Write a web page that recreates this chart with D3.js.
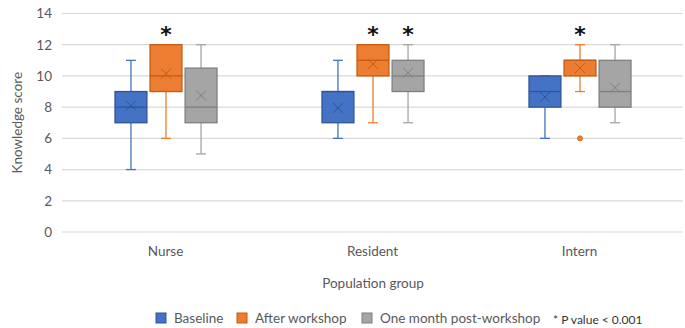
<!DOCTYPE html>
<html>
<head>
<meta charset="utf-8">
<script src="https://cdn.jsdelivr.net/npm/d3@7"></script>
<style>
  html, body { margin: 0; padding: 0; background: #fff; }
  svg { display: block; font-family: Lato, "Open Sans", sans-serif; }
</style>
</head>
<body>
<svg id="chart" width="685" height="328"></svg>
<script>
// Population groups and score series
const groups = ["Nurse", "Resident", "Intern"];
const series = ["Baseline", "After workshop", "One month post-workshop"];
const yTicks = [0, 2, 4, 6, 8, 10, 12, 14];

// Five-number summaries per series, in group order
const mins    = [[4, 6, 6], [6, 7, 9], [5, 7, 7]];
const q1s     = [[7, 7, 8], [9, 10, 10], [7, 9, 8]];
const medians = [[8, 9, 9], [10, 11, 11], [8, 10, 9]];
const q3s     = [[9, 9, 10], [12, 12, 11], [10.5, 11, 11]];
const maxs    = [[11, 11, 10], [12, 12, 12], [12, 12, 12]];
const means   = [[8.1, 7.95, 8.65], [10.15, 10.75, 10.5], [8.75, 10.2, 9.25]];
// Outliers: [seriesIndex, groupIndex, value]
const outliers = [[1, 2, 6]];
// Significance markers (p < 0.001): [seriesIndex, groupIndex]
const significant = [[1, 0], [1, 1], [2, 1], [1, 2]];

const fills   = ["#4472C4", "#ED7D31", "#A5A5A5"];
const strokes = ["#2F5597", "#C55A11", "#7F7F7F"];

const svg = d3.select("#chart");
const plotLeft = 62, plotRight = 683, plotTop = 13.5, plotBottom = 232;

const y = d3.scaleLinear().domain([0, 14]).range([plotBottom, plotTop]);
const x0 = d3.scaleBand().domain(groups).range([plotLeft, plotRight]).padding(0);
const x1 = d3.scaleBand().domain(series).range([53, 155]).paddingInner(0.09);

// Gridlines
svg.append("g")
  .selectAll("line").data(yTicks).join("line")
  .attr("x1", plotLeft).attr("x2", plotRight)
  .attr("y1", d => y(d)).attr("y2", d => y(d))
  .attr("stroke", "#d9d9d9").attr("stroke-width", 1.2);

// Y axis tick labels
const yAxis = d3.axisLeft(y).tickValues(yTicks).tickSize(0).tickPadding(0);
const yg = svg.append("g").attr("transform", `translate(${plotLeft - 10},0)`).call(yAxis);
yg.select(".domain").remove();
yg.selectAll("text").attr("font-family", "Lato, sans-serif").attr("font-size", 13.5).attr("fill", "#595959");

// X axis category labels
const xAxis = d3.axisBottom(x0).tickSize(0).tickPadding(0);
const xg = svg.append("g").attr("transform", `translate(0,${plotBottom + 14})`).call(xAxis);
xg.select(".domain").remove();
xg.selectAll("text").attr("font-family", "Lato, sans-serif").attr("font-size", 13.5).attr("fill", "#595959");

// Axis titles
svg.append("text")
  .attr("transform", `translate(22,${(plotTop + plotBottom) / 2}) rotate(-90)`)
  .attr("text-anchor", "middle").attr("font-size", 13.5).attr("fill", "#595959")
  .text("Knowledge score");
svg.append("text")
  .attr("x", (plotLeft + plotRight) / 2 + 0.5).attr("y", 288)
  .attr("text-anchor", "middle").attr("font-size", 13.5).attr("fill", "#595959")
  .text("Population group");

// Box plots
const bw = x1.bandwidth();
const cap = 10;
series.forEach((s, si) => {
  const g = svg.append("g");
  groups.forEach((grp, gi) => {
    const bx = x0(grp) + x1(s);
    const cx = bx + bw / 2;
    const col = strokes[si];
    // Whiskers
    g.append("line").attr("x1", cx).attr("x2", cx)
      .attr("y1", y(mins[si][gi])).attr("y2", y(q1s[si][gi]))
      .attr("stroke", fills[si]).attr("stroke-width", 1.3);
    g.append("line").attr("x1", cx).attr("x2", cx)
      .attr("y1", y(q3s[si][gi])).attr("y2", y(maxs[si][gi]))
      .attr("stroke", fills[si]).attr("stroke-width", 1.3);
    [mins[si][gi], maxs[si][gi]].forEach(v => {
      g.append("line").attr("x1", cx - cap / 2).attr("x2", cx + cap / 2)
        .attr("y1", y(v)).attr("y2", y(v))
        .attr("stroke", fills[si]).attr("stroke-width", 1.3);
    });
    // Box
    g.append("rect")
      .attr("x", bx).attr("width", bw)
      .attr("y", y(q3s[si][gi])).attr("height", y(q1s[si][gi]) - y(q3s[si][gi]))
      .attr("fill", fills[si]).attr("stroke", col).attr("stroke-width", 1.3);
    // Median
    g.append("line").attr("x1", bx).attr("x2", bx + bw)
      .attr("y1", y(medians[si][gi])).attr("y2", y(medians[si][gi]))
      .attr("stroke", col).attr("stroke-width", 1.3);
    // Mean marker (x)
    const my = y(means[si][gi]), r = 5;
    g.append("path")
      .attr("d", `M${cx - r},${my - r}L${cx + r},${my + r}M${cx - r},${my + r}L${cx + r},${my - r}`)
      .attr("stroke", col).attr("stroke-width", 1).attr("fill", "none");
  });
});

// Outliers
svg.append("g").selectAll("circle").data(outliers).join("circle")
  .attr("cx", d => x0(groups[d[1]]) + x1(series[d[0]]) + bw / 2)
  .attr("cy", d => y(d[2]))
  .attr("r", 2.6)
  .attr("fill", d => fills[d[0]]).attr("stroke", d => strokes[d[0]]).attr("stroke-width", 0.6);

// Significance asterisks
svg.append("g").selectAll("text").data(significant).join("text")
  .attr("x", d => x0(groups[d[1]]) + x1(series[d[0]]) + bw / 2)
  .attr("y", d => y(maxs[d[0]][d[1]]) - 3)
  .attr("text-anchor", "middle")
  .attr("font-family", "DejaVu Sans, sans-serif")
  .attr("font-size", 22).attr("font-weight", "bold").attr("fill", "#111")
  .attr("dy", "0.62em").attr("transform", "translate(0,-13)")
  .text("*");

// Legend
const legendX = [156, 237, 362];
const leg = svg.append("g");
series.forEach((s, si) => {
  leg.append("rect")
    .attr("x", legendX[si]).attr("y", 313).attr("width", 10).attr("height", 10)
    .attr("fill", fills[si]).attr("stroke", strokes[si]).attr("stroke-width", 1);
  leg.append("text")
    .attr("x", legendX[si] + 18).attr("y", 323)
    .attr("font-size", 13.5).attr("fill", "#595959")
    .text(s);
});
leg.append("text")
  .attr("x", 553).attr("y", 323.5)
  .attr("font-size", 12).attr("fill", "#333")
  .text("* P value < 0.001");
</script>
</body>
</html>
